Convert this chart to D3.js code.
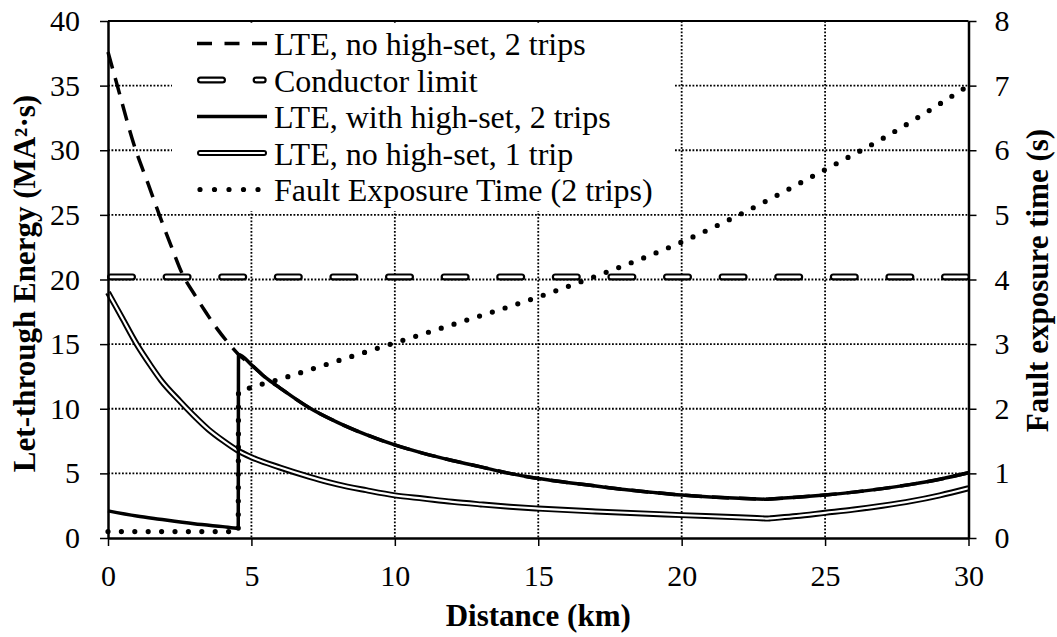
<!DOCTYPE html>
<html>
<head>
<meta charset="utf-8">
<script src="https://cdn.jsdelivr.net/npm/d3@7"></script>
<style>
  html, body { margin: 0; padding: 0; background: #fff; }
  svg { display: block; }
  text { font-family: "Liberation Serif", "Times New Roman", Times, serif; fill: #000; }
</style>
</head>
<body>
<svg id="chart" width="1057" height="637"></svg>
<script>
// ---- data: distance (km) vs let-through energy (MA²·s) and fault exposure time (s) ----
const xTicks = [0, 5, 10, 15, 20, 25, 30];
const leftTicks = [0, 5, 10, 15, 20, 25, 30, 35, 40];
const rightTicks = [0, 1, 2, 3, 4, 5, 6, 7, 8];

// LTE without high-set, two trips (beyond 4.55 km it follows the high-set curve)
const lteNoHighSet2Trips = [
  [0, 37.6], [0.3, 35.2], [0.94, 30.2], [1.4, 27.4], [1.79, 25.0], [2.2, 22.6],
  [2.62, 20.3], [3.0, 18.9], [3.4, 17.5], [3.8, 16.2], [4.19, 15.1], [4.55, 14.2],
  [5, 13.4], [5.5, 12.4], [6, 11.6], [7, 10.1], [8, 8.95], [9, 8.0], [10, 7.2],
  [11, 6.55], [12, 6.0], [13, 5.5], [14, 5.0], [15, 4.6], [16, 4.3], [17.2, 3.97],
  [18, 3.75], [19, 3.53], [20, 3.33], [21, 3.18], [22, 3.07], [22.9, 3.005], [23, 3.0],
  [23.1, 3.017], [24, 3.15], [25, 3.33], [26, 3.55], [27, 3.82], [28, 4.15], [29, 4.55], [30, 5.05]
];

// LTE with high-set, two trips: low section up to the high-set reach
const lteHighSetNear = [
  [0, 2.1], [1, 1.7], [1.8, 1.45], [3, 1.1], [4, 0.88], [4.54, 0.76]
];

// LTE without high-set, one trip
const lteNoHighSet1Trip = [
  [0, 19.0], [0.5, 17.0], [1, 15.0], [1.5, 13.3], [1.85, 12.2], [2.5, 10.6], [3, 9.45],
  [3.5, 8.4], [4, 7.55], [4.5, 6.8], [5, 6.25], [6, 5.45], [7, 4.75], [7.39, 4.5],
  [8, 4.15], [9, 3.7], [10, 3.3], [11, 3.05], [12, 2.8], [13, 2.6], [14, 2.42],
  [15, 2.28], [17, 2.05], [20, 1.77], [22, 1.6], [22.9, 1.51], [23, 1.5], [23.1, 1.52],
  [24, 1.7], [25, 1.95], [26, 2.2], [27, 2.5], [28, 2.85], [29, 3.3], [30, 3.85]
];

// Conductor thermal limit (MA²·s)
const conductorLimit = 20.2;

// Fault exposure time for two trips (s, right axis)
const faultExposureTime = [
  [0, 0.1], [4.54, 0.1], [4.55, 2.26], [5, 2.33], [6, 2.46], [8, 2.74], [10, 3.02],
  [12, 3.3], [15, 3.73], [17, 4.05], [20, 4.58], [22, 5.0], [25, 5.7], [27, 6.18], [30, 7.0]
];

const legendLabels = [
  "LTE, no high-set, 2 trips",
  "Conductor limit",
  "LTE, with high-set, 2 trips",
  "LTE, no high-set, 1 trip",
  "Fault Exposure Time (2 trips)"
];

// ---- layout ----
const plot = { left: 108, right: 968.5, top: 21, bottom: 538 };
const svg = d3.select("#chart");

const x = d3.scaleLinear().domain([0, 30]).range([plot.left, plot.right]);
const yL = d3.scaleLinear().domain([0, 40]).range([plot.bottom, plot.top]);
const yR = d3.scaleLinear().domain([0, 8]).range([plot.bottom, plot.top]);

// ---- gridlines ----
const grid = svg.append("g").attr("stroke", "#000").attr("stroke-width", 1.8)
  .attr("stroke-dasharray", "1.8,1.7");
grid.selectAll("line.h").data(leftTicks.filter(v => v > 0 && v < 40)).join("line")
  .attr("class", "h")
  .attr("x1", plot.left).attr("x2", plot.right)
  .attr("y1", d => yL(d)).attr("y2", d => yL(d));
grid.selectAll("line.v").data(xTicks.filter(v => v > 0 && v < 30)).join("line")
  .attr("class", "v")
  .attr("x1", d => x(d)).attr("x2", d => x(d))
  .attr("y1", plot.top).attr("y2", plot.bottom);

// legend background masks the gridlines behind it
svg.append("rect").attr("x", 172).attr("y", 24).attr("width", 502).attr("height", 187)
  .attr("fill", "#fff");

// ---- series ----
const lineL = d3.line().x(d => x(d[0])).y(d => yL(d[1])).curve(d3.curveMonotoneX);
const lineR = d3.line().x(d => x(d[0])).y(d => yR(d[1])).curve(d3.curveMonotoneX);

// conductor limit: hollow dashes (black outline, white core)
const limitData = [[0, conductorLimit], [30, conductorLimit]];
const limitLine = d3.line().x(d => x(d[0])).y(d => yL(d[1]));
svg.append("path").attr("d", limitLine(limitData)).attr("fill", "none")
  .attr("stroke", "#000").attr("stroke-width", 7).attr("stroke-linecap", "round")
  .attr("stroke-dasharray", "22,33.6").attr("stroke-dashoffset", -2.5);
svg.append("path").attr("d", limitLine(limitData)).attr("fill", "none")
  .attr("stroke", "#fff").attr("stroke-width", 2.6).attr("stroke-linecap", "round")
  .attr("stroke-dasharray", "22,33.6").attr("stroke-dashoffset", -2.5);

// LTE, no high-set, 1 trip: double line
svg.append("path").attr("d", lineL(lteNoHighSet1Trip)).attr("fill", "none")
  .attr("stroke", "#000").attr("stroke-width", 6);
svg.append("path").attr("d", lineL(lteNoHighSet1Trip)).attr("fill", "none")
  .attr("stroke", "#fff").attr("stroke-width", 2.2);

// LTE, no high-set, 2 trips: dashed
svg.append("path").attr("d", lineL(lteNoHighSet2Trips)).attr("fill", "none")
  .attr("stroke", "#000").attr("stroke-width", 3.5).attr("stroke-dasharray", "17,10");

// LTE, with high-set, 2 trips: solid, jumps at the high-set reach
const lteHighSet2Trips = lteHighSetNear.concat(lteNoHighSet2Trips.filter(d => d[0] >= 4.55));
svg.append("path").attr("d", lineL(lteHighSet2Trips)).attr("fill", "none")
  .attr("stroke", "#000").attr("stroke-width", 3.5);

// fault exposure time: round dots
svg.append("path").attr("d", lineR(faultExposureTime)).attr("fill", "none")
  .attr("stroke", "#000").attr("stroke-width", 5.2).attr("stroke-linecap", "round")
  .attr("stroke-dasharray", "0,13.4");

// ---- axes ----
const styleAxis = g => {
  g.select(".domain").attr("stroke", "#000").attr("stroke-width", 2.5);
  g.selectAll(".tick line").attr("stroke", "#000").attr("stroke-width", 1.5);
  g.selectAll(".tick text").attr("font-size", 30)
    .attr("font-family", "'Liberation Serif', 'Times New Roman', serif").attr("fill", "#000");
};

svg.append("g").attr("transform", `translate(0,${plot.bottom})`)
  .call(d3.axisBottom(x).tickValues(xTicks).tickSize(8).tickSizeOuter(0).tickPadding(18.7)
    .tickFormat(d3.format("d")))
  .call(styleAxis);

svg.append("g").attr("transform", `translate(${plot.left},0)`)
  .call(d3.axisLeft(yL).tickValues(leftTicks).tickSize(8).tickSizeOuter(0).tickPadding(20)
    .tickFormat(d3.format("d")))
  .call(styleAxis);

svg.append("g").attr("transform", `translate(${plot.right},0)`)
  .call(d3.axisRight(yR).tickValues(rightTicks).tickSize(8).tickSizeOuter(0).tickPadding(18)
    .tickFormat(d3.format("d")))
  .call(styleAxis);

// top frame
svg.append("line").attr("x1", plot.left).attr("x2", plot.right)
  .attr("y1", plot.top).attr("y2", plot.top).attr("stroke", "#000").attr("stroke-width", 2.2);

// ---- axis titles ----
svg.append("text").attr("x", (plot.left + plot.right) / 2).attr("y", 626)
  .attr("text-anchor", "middle").attr("font-size", 31).attr("font-weight", "bold")
  .text("Distance (km)");

svg.append("text").attr("transform", `translate(35,${(plot.top + plot.bottom) / 2 + 4}) rotate(-90)`)
  .attr("text-anchor", "middle").attr("font-size", 31).attr("font-weight", "bold")
  .text("Let-through Energy (MA²·s)");

svg.append("text").attr("transform", `translate(1048,${(plot.top + plot.bottom) / 2 + 1}) rotate(-90)`)
  .attr("text-anchor", "middle").attr("font-size", 31).attr("font-weight", "bold")
  .text("Fault exposure time (s)");

// ---- legend ----
const legend = svg.append("g");
const rowBase = [55, 91.5, 128, 164.5, 201];
const symY = i => rowBase[i] - 11.5;

legendLabels.forEach((label, i) => {
  legend.append("text").attr("x", 274).attr("y", rowBase[i]).attr("font-size", 32).text(label);
});

// sample 1: dashed
legend.append("line").attr("x1", 197).attr("x2", 267).attr("y1", symY(0)).attr("y2", symY(0))
  .attr("stroke", "#000").attr("stroke-width", 3.5).attr("stroke-dasharray", "15,12.5");
// sample 2: hollow dash
[["#000", 7], ["#fff", 2.6]].forEach(([c, w]) => {
  legend.append("line").attr("x1", 200.5).attr("x2", 263.2).attr("y1", symY(1)).attr("y2", symY(1))
    .attr("stroke", c).attr("stroke-width", w).attr("stroke-linecap", "round")
    .attr("stroke-dasharray", "22,33.6");
});
// sample 3: solid
legend.append("line").attr("x1", 197).attr("x2", 267).attr("y1", symY(2)).attr("y2", symY(2))
  .attr("stroke", "#000").attr("stroke-width", 3.5);
// sample 4: double line
[["#000", 6], ["#fff", 2.2]].forEach(([c, w]) => {
  legend.append("line").attr("x1", 200).attr("x2", 264).attr("y1", symY(3)).attr("y2", symY(3))
    .attr("stroke", c).attr("stroke-width", w).attr("stroke-linecap", "round");
});
// sample 5: dots
legend.append("line").attr("x1", 200).attr("x2", 260).attr("y1", symY(4)).attr("y2", symY(4))
  .attr("stroke", "#000").attr("stroke-width", 5.2).attr("stroke-linecap", "round")
  .attr("stroke-dasharray", "0,14.5");
</script>
</body>
</html>
